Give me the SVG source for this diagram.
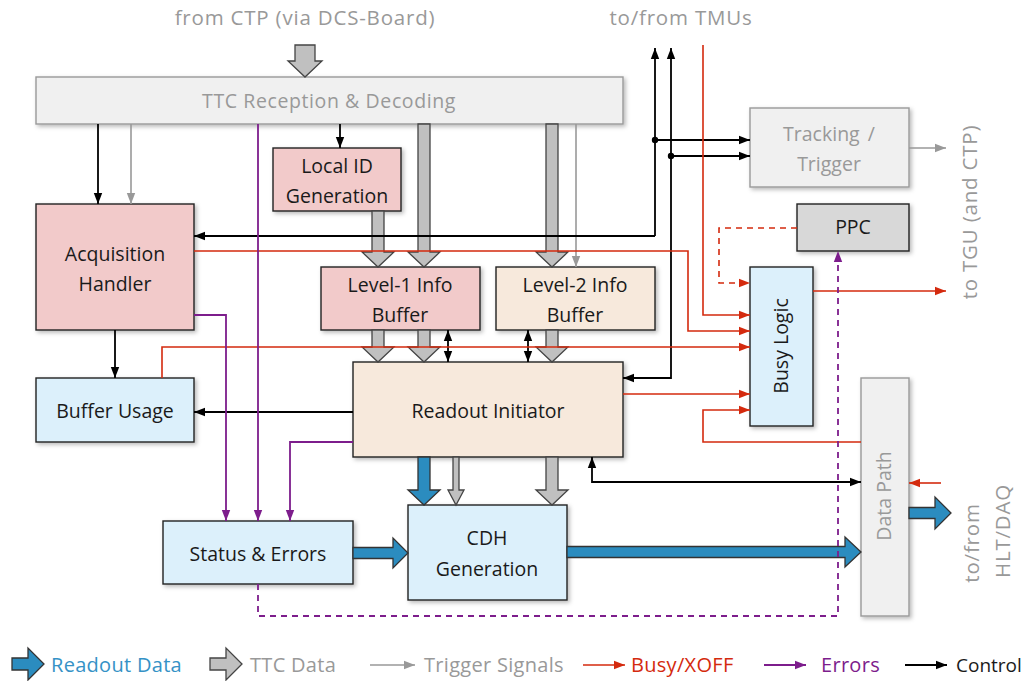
<svg xmlns="http://www.w3.org/2000/svg" width="1024" height="681" viewBox="0 0 1024 681">
  <defs>
    <filter id="shadow" x="-10%" y="-10%" width="130%" height="130%">
      <feDropShadow dx="2" dy="2" stdDeviation="2.2" flood-color="#000" flood-opacity="0.28"/>
    </filter>
    <marker id="ah-k" markerUnits="userSpaceOnUse" markerWidth="12" markerHeight="10" refX="11" refY="5" orient="auto-start-reverse">
      <path d="M0,0.8 L11,5 L0,9.2 Z" fill="#000"/>
    </marker>
    <marker id="ah-g" markerUnits="userSpaceOnUse" markerWidth="12" markerHeight="10" refX="11" refY="5" orient="auto-start-reverse">
      <path d="M0,0.8 L11,5 L0,9.2 Z" fill="#999"/>
    </marker>
    <marker id="ah-r" markerUnits="userSpaceOnUse" markerWidth="12" markerHeight="10" refX="11" refY="5" orient="auto-start-reverse">
      <path d="M0,0.8 L11,5 L0,9.2 Z" fill="#d42a0e"/>
    </marker>
    <marker id="ah-p" markerUnits="userSpaceOnUse" markerWidth="12" markerHeight="10" refX="11" refY="5" orient="auto-start-reverse">
      <path d="M0,0.8 L11,5 L0,9.2 Z" fill="#7d1d8c"/>
    </marker>
    <marker id="dot" markerUnits="userSpaceOnUse" markerWidth="8" markerHeight="8" refX="4" refY="4">
      <circle cx="4" cy="4" r="3.2" fill="#000"/>
    </marker>
  </defs>
  <style>
    text { font-family: "Open Sans", Lato, "DejaVu Sans", sans-serif; font-size: 19.5px; fill: #1a1a1a; }
    .lbl { text-anchor: middle; }
    .muted { fill: #999; }
    .ext { font-size: 20.5px; letter-spacing: 0.8px; }
    .leg { font-size: 20px; letter-spacing: 0.3px; }
    .box { stroke: #222; stroke-width: 1.4; filter: url(#shadow); }
    .gbox { fill: #f0f0f0; stroke: #999; stroke-width: 1.4; filter: url(#shadow); }
    .pink { fill: #f2caca; }
    .beige { fill: #f7e9dc; }
    .blue { fill: #dcf0fb; }
    .grey { fill: #d8d8d8; }
    .ctl { fill: none; stroke: #000; stroke-width: 1.8; }
    .trg { fill: none; stroke: #999; stroke-width: 1.6; }
    .busy { fill: none; stroke: #d42a0e; stroke-width: 1.6; }
    .err { fill: none; stroke: #7d1d8c; stroke-width: 1.8; }
    .dash { stroke-dasharray: 6 5; }
    .ttc { fill: #c0c0c0; stroke: #444; stroke-width: 1.3; stroke-linejoin: miter; }
    .rd { fill: #2b8cbf; stroke: #333; stroke-width: 1.3; stroke-linejoin: miter; }
  </style>

  <!-- external labels -->
  <text class="lbl muted ext" x="305" y="25">from CTP (via DCS-Board)</text>
  <text class="lbl muted ext" x="681" y="25">to/from TMUs</text>
  <text class="lbl muted ext" transform="translate(977,212) rotate(-90)">to TGU (and CTP)</text>
  <text class="lbl muted ext" transform="translate(979,543) rotate(-90)">to/from</text>
  <text class="lbl muted ext" transform="translate(1010,531) rotate(-90)">HLT/DAQ</text>

  <!-- nodes -->
  <g id="ttc-reception">
    <rect class="gbox" x="36" y="77" width="587" height="47"/>
    <text class="lbl muted" x="329" y="108" style="letter-spacing:0.6px">TTC Reception &amp; Decoding</text>
  </g>
  <g id="local-id">
    <rect class="box pink" x="273" y="148" width="128" height="63"/>
    <text class="lbl" x="337" y="173">Local ID</text>
    <text class="lbl" x="337" y="203">Generation</text>
  </g>
  <g id="acquisition-handler">
    <rect class="box pink" x="36" y="204" width="158" height="126"/>
    <text class="lbl" x="115" y="261">Acquisition</text>
    <text class="lbl" x="115" y="291">Handler</text>
  </g>
  <g id="buffer-usage">
    <rect class="box blue" x="36" y="378" width="158" height="64"/>
    <text class="lbl" x="115" y="418">Buffer Usage</text>
  </g>
  <g id="level1-buffer">
    <rect class="box pink" x="321" y="267" width="159" height="63"/>
    <text class="lbl" x="400" y="292">Level-1 Info</text>
    <text class="lbl" x="400" y="322">Buffer</text>
  </g>
  <g id="level2-buffer">
    <rect class="box beige" x="496" y="267" width="159" height="63"/>
    <text class="lbl" x="575" y="292">Level-2 Info</text>
    <text class="lbl" x="575" y="322">Buffer</text>
  </g>
  <g id="readout-initiator">
    <rect class="box beige" x="353" y="362" width="270" height="95"/>
    <text class="lbl" x="488" y="418">Readout Initiator</text>
  </g>
  <g id="status-errors">
    <rect class="box blue" x="163" y="521" width="190" height="63"/>
    <text class="lbl" x="258" y="561">Status &amp; Errors</text>
  </g>
  <g id="cdh-generation">
    <rect class="box blue" x="408" y="505" width="159" height="95"/>
    <text class="lbl" x="487" y="545">CDH</text>
    <text class="lbl" x="487" y="576">Generation</text>
  </g>
  <g id="tracking-trigger">
    <rect class="gbox" x="750" y="108" width="159" height="79"/>
    <text class="lbl muted" x="829" y="141" style="word-spacing:3px">Tracking /</text>
    <text class="lbl muted" x="829" y="171">Trigger</text>
  </g>
  <g id="ppc">
    <rect class="box grey" x="797" y="204" width="112" height="47"/>
    <text class="lbl" x="853" y="234">PPC</text>
  </g>
  <g id="busy-logic">
    <rect class="box blue" x="750" y="267" width="63" height="159"/>
    <text class="lbl" transform="translate(788,346) rotate(-90)">Busy Logic</text>
  </g>
  <g id="data-path">
    <rect class="gbox" x="861" y="378" width="48" height="238"/>
    <text class="lbl muted" transform="translate(891,496) rotate(-90)">Data Path</text>
  </g>

  <!-- connectors -->
  <g id="connectors">
    <!-- TTC data (grey block arrows) -->
    <polygon class="ttc" points="295,45 315,45 315,61 322,61 305,77 288,61 295,61"/>
    <polygon class="ttc" points="372,211 384,211 384,252 394,252 378,267 362,252 372,252"/>
    <polygon class="ttc" points="418,124 430,124 430,252 440,252 424,267 408,252 418,252"/>
    <polygon class="ttc" points="546,124 558,124 558,252 568,252 552,267 536,252 546,252"/>
    <polygon class="ttc" points="372,330 384,330 384,347 394,347 378,362 362,347 372,347"/>
    <polygon class="ttc" points="418,330 430,330 430,347 440,347 424,362 408,347 418,347"/>
    <polygon class="ttc" points="546,330 558,330 558,347 568,347 552,362 536,347 546,347"/>
    <polygon class="ttc" points="546,457 558,457 558,490 568,490 552,505 536,490 546,490"/>
    <polygon class="ttc" points="453,457 459,457 459,490 464,490 456,505 448,490 453,490"/>

    <!-- readout data (blue block arrows) -->
    <polygon class="rd" points="418,457 430,457 430,490 440,490 424,505 408,490 418,490"/>
    <polygon class="rd" points="353,547.5 393,547.5 393,538 408,553 393,568 393,558.5 353,558.5"/>
    <polygon class="rd" points="567,546.5 845,546.5 845,537 861,552 845,567 845,557.5 567,557.5"/>
    <polygon class="rd" points="909,507.5 935,507.5 935,497 951,513 935,529 935,518.5 909,518.5"/>

    <!-- trigger signals -->
    <path class="trg" d="M131,124 V204" marker-end="url(#ah-g)"/>
    <path class="trg" d="M576,124 V267" marker-end="url(#ah-g)"/>
    <path class="trg" d="M909,148 H946" marker-end="url(#ah-g)"/>

    <!-- control -->
    <path class="ctl" d="M98,124 V204" marker-end="url(#ah-k)"/>
    <path class="ctl" d="M340,124 V148" marker-end="url(#ah-k)"/>
    <path class="ctl" d="M115,330 V378" marker-end="url(#ah-k)"/>
    <path class="ctl" d="M353,412 H194" marker-end="url(#ah-k)"/>
    <path class="ctl" d="M655,236 V48" marker-end="url(#ah-k)"/>
    <path class="ctl" d="M655,236 H194" marker-end="url(#ah-k)"/>
    <path class="ctl" d="M671,48 V378 H623" marker-start="url(#ah-k)" marker-end="url(#ah-k)"/>
    <path class="ctl" d="M655,140 H750" marker-start="url(#dot)" marker-end="url(#ah-k)"/>
    <path class="ctl" d="M671,156 H750" marker-start="url(#dot)" marker-end="url(#ah-k)"/>
    <path class="ctl" d="M448,330 V362" marker-start="url(#ah-k)" marker-end="url(#ah-k)"/>
    <path class="ctl" d="M528,330 V362" marker-start="url(#ah-k)" marker-end="url(#ah-k)"/>
    <path class="ctl" d="M592,457 V482 H861" marker-start="url(#ah-k)" marker-end="url(#ah-k)"/>

    <!-- busy / xoff -->
    <path class="busy" d="M703,45 V315 H750" marker-end="url(#ah-r)"/>
    <path class="busy" d="M194,251 H688 V331 H750" marker-end="url(#ah-r)"/>
    <path class="busy" d="M162,378 V347 H750" marker-end="url(#ah-r)"/>
    <path class="busy" d="M623,394 H750" marker-end="url(#ah-r)"/>
    <path class="busy" d="M861,442 H703 V410 H750" marker-end="url(#ah-r)"/>
    <path class="busy" d="M813,291 H946" marker-end="url(#ah-r)"/>
    <path class="busy dash" d="M797,228 H719 V283 H750" marker-end="url(#ah-r)"/>
    <path class="busy" d="M941,483 H909" marker-end="url(#ah-r)"/>

    <!-- errors -->
    <path class="err" d="M258,124 V521" marker-end="url(#ah-p)"/>
    <path class="err" d="M194,315 H226 V521" marker-end="url(#ah-p)"/>
    <path class="err" d="M353,442 H290 V521" marker-end="url(#ah-p)"/>
    <path class="err dash" d="M258,584 V616 H838 V251" marker-end="url(#ah-p)"/>
  </g>

  <!-- legend -->
  <g id="legend">
    <polygon class="rd" points="12,658 28,658 28,648 44,664 28,680 28,670 12,670"/>
    <text class="leg" x="51" y="672" style="fill:#3592c6">Readout Data</text>
    <polygon class="ttc" points="210,658 226,658 226,648 242,664 226,680 226,670 210,670"/>
    <text class="leg muted" x="250" y="672">TTC Data</text>
    <path class="trg" d="M370,665 H415" marker-end="url(#ah-g)"/>
    <text class="leg muted" x="424" y="672">Trigger Signals</text>
    <path class="busy" d="M583,665 H625" marker-end="url(#ah-r)"/>
    <text class="leg" x="631" y="672" style="fill:#d42a0e">Busy/XOFF</text>
    <path class="err" d="M764,665 H806" marker-end="url(#ah-p)"/>
    <text class="leg" x="821" y="672" style="fill:#7d1d8c">Errors</text>
    <path class="ctl" d="M905,665 H947" marker-end="url(#ah-k)"/>
    <text class="leg" x="956" y="672" style="letter-spacing:0;font-size:19px">Control</text>
  </g>
</svg>
